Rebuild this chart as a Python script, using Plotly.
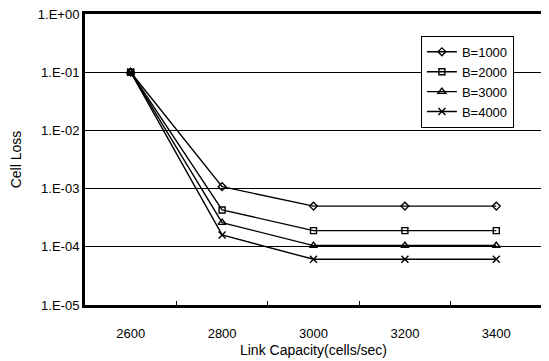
import plotly.graph_objects as go

capacity = [2600, 2800, 3000, 3200, 3400]
b1000 = [1.0e-1, 1.08e-3, 5.0e-4, 5.0e-4, 5.0e-4]
b2000 = [1.0e-1, 4.3e-4, 1.9e-4, 1.9e-4, 1.9e-4]
b3000 = [1.0e-1, 2.6e-4, 1.05e-4, 1.05e-4, 1.05e-4]
b4000 = [1.0e-1, 1.6e-4, 6.1e-5, 6.1e-5, 6.1e-5]
series_names = ["B=1000", "B=2000", "B=3000", "B=4000"]
y_tickvals = [1e0, 1e-1, 1e-2, 1e-3, 1e-4, 1e-5]
y_ticktext = ["1.E+00", "1.E-01", "1.E-02", "1.E-03", "1.E-04", "1.E-05"]
x_ticks = [2600, 2800, 3000, 3200, 3400]

symbols = ["diamond-open", "square-open", "triangle-up-open", "x-thin-open"]
sizes = [6, 6, 7, 7]

fig = go.Figure()
for name, vals, sym, sz in zip(series_names, [b1000, b2000, b3000, b4000], symbols, sizes):
    fig.add_trace(go.Scatter(
        x=capacity, y=vals, name=name, mode="lines+markers",
        line=dict(color="black", width=1.4),
        marker=dict(symbol=sym, size=sz, color="black", line=dict(color="black", width=1.4)),
    ))

font = "Liberation Sans, Arial, sans-serif"
# page body has an 8px margin, so the figure is sized/offset to compensate
fig.update_layout(
    width=541, height=353,
    margin=dict(l=77, r=7, t=6, b=56, autoexpand=False),
    paper_bgcolor="white", plot_bgcolor="white",
    font=dict(family=font, size=13, color="black"),
    legend=dict(
        x=0.735, y=0.925, xanchor="left", yanchor="top",
        bgcolor="white", bordercolor="black", borderwidth=1,
        font=dict(size=13), itemwidth=30, tracegroupgap=0,
    ),
    xaxis=dict(
        range=[2500, 3500], tickvals=x_ticks, ticktext=[str(v) for v in x_ticks],
        ticks="", showgrid=False, zeroline=False, automargin=False,
        showline=True, linecolor="black", linewidth=3, mirror=True,
        tickfont=dict(size=13), ticklabelstandoff=14,
        minor=dict(tickvals=[2700, 2900, 3100, 3300], ticks="inside", ticklen=4,
                   tickcolor="black", showgrid=False),
        title=dict(text="Link Capacity(cells/sec)", font=dict(size=14), standoff=6),
    ),
    yaxis=dict(
        type="log", range=[-5, 0], tickvals=y_tickvals, ticktext=y_ticktext,
        ticks="", showgrid=True, gridcolor="black", gridwidth=1, automargin=False,
        zeroline=False, showline=True, linecolor="black", linewidth=3, mirror=True,
        tickfont=dict(size=13), ticklabelstandoff=0, ticklabeloverflow="allow",
        title=dict(text="Cell Loss", font=dict(size=14), standoff=14),
    ),
)

fig.write_html("out.html")
